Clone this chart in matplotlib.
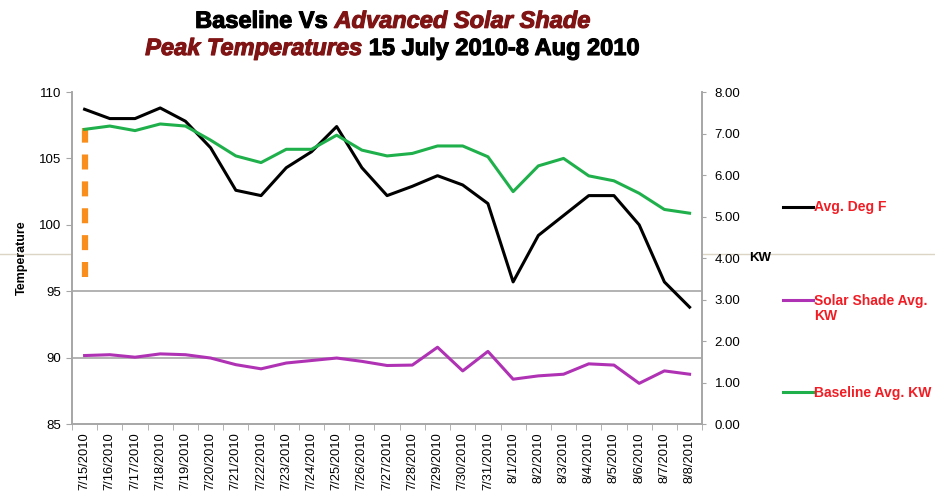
import numpy as np
import matplotlib
matplotlib.use("Agg")
import matplotlib.pyplot as plt
import matplotlib.patheffects as pe
from matplotlib.lines import Line2D

plt.rcParams['font.family'] = ['Liberation Sans', 'DejaVu Sans']

# data
dates = ['7/15/2010', '7/16/2010', '7/17/2010', '7/18/2010', '7/19/2010', '7/20/2010',
         '7/21/2010', '7/22/2010', '7/23/2010', '7/24/2010', '7/25/2010', '7/26/2010',
         '7/27/2010', '7/28/2010', '7/29/2010', '7/30/2010', '7/31/2010', '8/1/2010',
         '8/2/2010', '8/3/2010', '8/4/2010', '8/5/2010', '8/6/2010', '8/7/2010', '8/8/2010']
avg_deg_f = [108.7, 108.0, 108.0, 108.8, 107.8, 105.8, 102.6, 102.2, 104.3, 105.5, 107.4,
             104.3, 102.2, 102.9, 103.7, 103.0, 101.6, 95.7, 99.2, 100.7, 102.2, 102.2,
             100.0, 95.7, 93.8]
solar_shade_kw = [1.65, 1.67, 1.61, 1.69, 1.67, 1.59, 1.43, 1.33, 1.47, 1.53, 1.59, 1.51,
                  1.41, 1.42, 1.85, 1.28, 1.75, 1.08, 1.16, 1.20, 1.45, 1.42, 0.98, 1.28, 1.20]
baseline_kw = [7.10, 7.18, 7.07, 7.23, 7.18, 6.84, 6.46, 6.30, 6.62, 6.62, 6.96, 6.60,
               6.46, 6.52, 6.70, 6.70, 6.44, 5.60, 6.22, 6.40, 5.98, 5.86, 5.56, 5.17, 5.08]
marker_span = (96.1, 107.3)   # orange dashed marker on 7/15

temp_ticks = [85, 90, 95, 100, 105, 110]
kw_ticks = [0, 1, 2, 3, 4, 5, 6, 7, 8]

BLACK = '#000000'
GREEN = '#1fb04c'
PURPLE = '#b032b4'
ORANGE = '#f98e1d'
DARKRED = '#801414'
RED = '#f21c24'
GRAY = '#a6a6a6'

fig = plt.figure(figsize=(9.35, 4.95), dpi=100)
ax1 = fig.add_axes([0.077, 0.1434, 0.674, 0.6707])
ax2 = ax1.twinx()

x = np.arange(len(dates))

# horizontal guides at 90 and 95 only
for v in (90, 95):
    ax1.axhline(v, color=GRAY, lw=1.2, zorder=1)

ax1.plot(x, avg_deg_f, color=BLACK, lw=2.2, zorder=4)
ax1.plot([x[0], x[0]], marker_span, color=ORANGE, lw=4.5, dashes=(2.4, 1.9), zorder=3)
ax2.plot(x, solar_shade_kw, color=PURPLE, lw=2.2)
ax2.plot(x, baseline_kw, color=GREEN, lw=2.2)

ax1.set_xlim(-0.5, len(dates) - 0.5)
ax1.set_ylim(85, 110)
ax2.set_ylim(0, 8)

ax1.set_yticks(temp_ticks)
ax1.set_yticklabels([str(t) for t in temp_ticks])
ax2.set_yticks(kw_ticks)
ax2.set_yticklabels(['%.2f' % t for t in kw_ticks])

ax1.set_xticks(x)
ax1.set_xticklabels(dates, rotation=90, fontsize=9.3)
ax1.set_xticks(np.arange(-0.5, len(dates)), minor=True)
ax1.tick_params(axis='x', which='major', length=0, pad=6)
ax1.tick_params(axis='x', which='minor', length=4, color=GRAY)
ax1.tick_params(axis='y', length=4, color=GRAY, labelsize=9.5, pad=4)
ax2.tick_params(axis='y', length=3, color=GRAY, labelsize=9.5, pad=6)

for ax in (ax1, ax2):
    ax.spines['top'].set_visible(False)
    for s in ('left', 'right', 'bottom'):
        ax.spines[s].set_color(GRAY)
        ax.spines[s].set_linewidth(1.2)

ax1.set_ylabel('Temperature', fontsize=9, fontweight='bold', labelpad=8)
ax2.set_ylabel('KW', fontsize=9.5, fontweight='bold', rotation=0, labelpad=14, va='center')

# stray slide rule across the figure
fig.add_artist(Line2D([0, 1], [0.487, 0.487], color='#dcd5c6', lw=1.0, zorder=0))

# legend drawn on the right
legend_items = [
    (BLACK, 'Avg. Deg F', 0.582),
    (PURPLE, 'Solar Shade Avg.\nKW', 0.394),
    (GREEN, 'Baseline Avg. KW', 0.208),
]
for color, label, yy in legend_items:
    fig.add_artist(Line2D([0.837, 0.870], [yy, yy], color=color, lw=2.2))
    fig.text(0.871, yy + 0.013, label, color=RED, fontsize=10, fontweight='bold',
             va='top', ha='left', linespacing=1.15)

# two-line title with mixed colours
title_lines = [
    [('Baseline Vs ', BLACK, 'normal'), ('Advanced Solar Shade', DARKRED, 'italic')],
    [('Peak Temperatures', DARKRED, 'italic'), (' 15 July 2010-8 Aug 2010', BLACK, 'normal')],
]
title_y = [0.957, 0.902]
title_cx = 0.42
renderer = fig.canvas.get_renderer()
for parts, yy in zip(title_lines, title_y):
    texts = []
    for s, c, st in parts:
        t = fig.text(0, yy, s, color=c, style=st, fontsize=17,
                     fontweight='bold', va='center', ha='left')
        t.set_path_effects([pe.withStroke(linewidth=0.8, foreground=c)])
        texts.append(t)
    widths = [t.get_window_extent(renderer).width / fig.bbox.width for t in texts]
    start = title_cx - sum(widths) / 2
    for t, w in zip(texts, widths):
        t.set_x(start)
        start += w

fig.savefig('out.png', dpi=100)
